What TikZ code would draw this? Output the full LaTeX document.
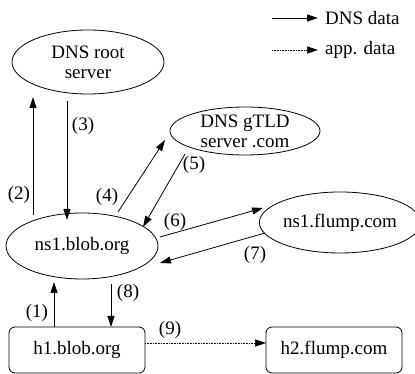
\documentclass[tikz,border=0pt]{standalone}
\usepackage{fontspec}
\setmainfont{Liberation Serif}
\usetikzlibrary{shapes.geometric,arrows.meta,calc}
\begin{document}
\begin{tikzpicture}[x=1pt,y=1pt,
  every node/.style={font=\fontsize{19}{20}\selectfont},
  ell/.style={draw,ellipse,inner sep=0pt,align=center,line width=0.8pt},
  hostbox/.style={draw,rounded corners=6pt,inner sep=0pt,line width=0.8pt,minimum width=136pt,minimum height=46pt},
  arr/.style={line width=0.8pt,-{Triangle[length=11pt,width=7pt]}},
  darr/.style={line width=0.6pt,densely dotted,-{Triangle[length=11pt,width=7pt]}},
  lbl/.style={inner sep=0pt}]
\useasboundingbox (0,0) rectangle (415,374);
% nodes
\node[ell,minimum width=152pt,minimum height=64pt] (root) at (88,312) {DNS root\\server};
\node[ell,minimum width=150pt,minimum height=48pt] (gtld) at (245,243) {DNS gTLD\\server .com};
\node[ell,minimum width=152pt,minimum height=66pt] (ns1) at (82,128) {ns1.blob.org};
\node[ell,minimum width=148pt,minimum height=61pt] (flump) at (340,151.5) {ns1.flump.com};
\node[hostbox] (h1) at (77,24) {h1.blob.org};
\node[hostbox] (h2) at (334,24) {h2.flump.com};
% legend
\coordinate (l1a) at (272,356);
\coordinate (l1b) at (318,356);
\coordinate (l2a) at (272,324);
\coordinate (l2b) at (318,324);
\draw[arr] (l1a) -- (l1b);
\node[anchor=west,inner sep=0pt] (lg1) at (325,356) {DNS data};
\draw[darr] (l2a) -- (l2b);
\node[anchor=west,inner sep=0pt] (lg2) at (325,324) {app. data};
% connectors
\draw[arr] ($(ns1)+(-49,31)$) -- ($(root)+(-55,-35)$);
\draw[arr] ($(root)+(-21,-39)$) -- ($(ns1)+(-15,26)$);
\draw[arr] ($(ns1)+(36,34)$) -- ($(gtld)+(-80,-9)$);
\draw[arr] ($(gtld)+(-60,-23)$) -- ($(ns1)+(61,19)$);
\draw[arr] ($(ns1)+(78,9)$) -- ($(flump)+(-77,14.5)$);
\draw[arr] ($(flump)+(-75,-10.5)$) -- ($(ns1)+(78,-17)$);
\draw[arr] ($(h1)+(-23,23)$) -- ($(ns1)+(-28,-36)$);
\draw[arr] ($(ns1)+(29,-38)$) -- ($(h1)+(34,23)$);
\draw[darr] ($(h1)+(68,7)$) -- ($(h2)+(-68,7)$);
% labels
\node[lbl] (n2) at (19,179) {(2)};
\node[lbl] (n3) at (83,248) {(3)};
\node[lbl] (n4) at (107,177) {(4)};
\node[lbl] (n5) at (194,209) {(5)};
\node[lbl] (n6) at (175,152) {(6)};
\node[lbl] (n7) at (255,119) {(7)};
\node[lbl] (n1) at (37,61) {(1)};
\node[lbl] (n8) at (128,81) {(8)};
\node[lbl] (n9) at (170,44) {(9)};
\end{tikzpicture}
\end{document}
